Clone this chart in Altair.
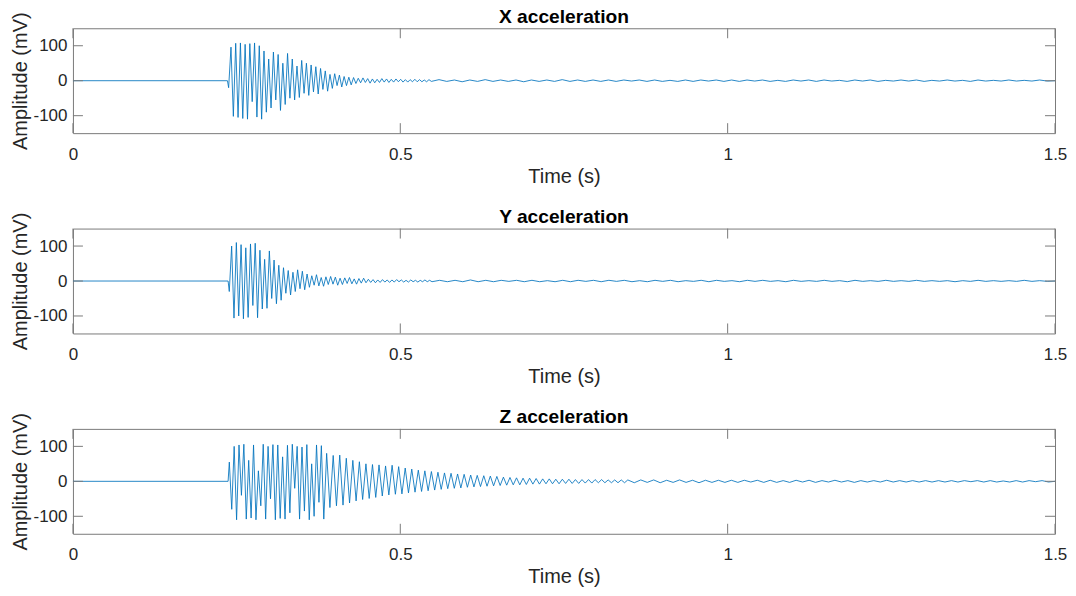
import altair as alt
import pandas as pd

# ---------------- data ----------------
x_ticks = [0, 0.5, 1, 1.5]
y_ticks = [-100, 0, 100]
titles = ["X acceleration", "Y acceleration", "Z acceleration"]

# X acceleration: onset time, half-period step, successive peak values (mV)
x_onset = 0.236
x_step = 0.0036
x_peaks = [
    -20, 96, -102, 107, -105, 108, -108, 104, -110, 106, -60, 108, -104, 100, -110,
    85, -90, 62, -78, 82, -55, 75, -85, 50, -68, 78,
    -50, 62, -55, 42, -48, 58, -36, 50, -42, 45, -32, 40, -38, 35,
    -25, 28, -30, 18, -22, 20, -14, 16, -18, 12, -14, 10, -12, 9,
    -8, 7, -6, 8, -5, 6, -7, 5, -6, 4, -5, 6, -4, 5, -5, 4, -4, 5, -3, 4,
    -4, 3, -4, 3, -3, 4, -3, 3, -3, 2, -3, 3, -2,
]
x_tail = [
    3, -2, 2, -3, 2, -2, 3, -2, 2, -2, 2, -3, 2, -2, 2, -2, 3, -2, 2, -2,
    2, -2, 2, -2, 2, -1, 2, -2, 2, -2, 1, -2, 2, -2, 2, -1, 2, -2, 2, -2,
    2, -1, 2, -2, 1, -2, 2, -1, 2, -2, 2, -1, 1, -2, 2, -1, 2, -2, 1, -1,
    2, -1, 2, -2, 1, -1, 2, -1, 1, -2, 2, -1, 1, -1, 2, -1, 1, -1, 2, -1,
]

# Y acceleration
y_onset = 0.237
y_step = 0.0036
y_peaks = [
    -30, 100, -106, 110, -100, 104, -108, 95, -104, 106, -70, 108, -105,
    88, -80, 62, -78, 86, -50, 60, -65, 45, -55,
    38, -35, 30, -40, 25, -30, 32, -22, 28, -25, 20,
    -18, 15, -12, 18, -14, 10, -15, 12, -10, 13, -9, 11, -12, 8, -10, 9,
    -7, 10, -8, 6, -9, 7, -6, 8, -5,
    5, -4, 4, -5, 3, -4, 4, -3, 3, -4, 3, -3, 4, -2, 3, -3, 2, -3, 3, -2,
    2, -3, 2, -2, 3, -2, 2, -2,
]
y_tail = [
    2, -2, 2, -2, 3, -2, 2, -2, 2, -1, 2, -2, 2, -2, 1, -2, 2, -2, 2, -1,
    2, -2, 2, -1, 2, -2, 1, -2, 2, -1, 2, -2, 1, -1, 2, -2, 2, -1, 1, -2,
    2, -1, 2, -1, 1, -2, 2, -1, 1, -1, 2, -1, 1, -2, 2, -1, 1, -1, 2, -1,
    1, -1, 2, -1, 1, -1, 1, -2, 1, -1, 2, -1, 1, -1, 1, -1, 2, -1, 1, -1,
]

# Z acceleration: dense burst, then slower decaying ringing
z_onset = 0.237
z_burst_step = 0.0037
z_burst = [
    55, -80, 100, -110, 104, -40, 106, -108, 60, -105, 104, -110, 30, -70, 106,
    -108, 100, -50, 105, -110, 104, -106, 70, -108, 103, -90, 106, -20, 100, -108,
    98, -85, 105, -110, 50, -100, 104, -60, 102, -108,
]
z_step = 0.005
z_peaks = [
    80, -75, 74, -70, 75, -68, 66, -62, 60, -56, 56, -52, 50, -49, 48, -46, 47,
    -42, 44, -39, 46, -37, 42,
    -36, 38, -33, 35, -31, 32, -29, 30, -27, 28, -25, 26, -23, 24, -21, 23, -20,
    21, -19, 20, -17, 18, -16, 17, -15, 16, -14, 15, -13, 14,
    -12, 12, -11, 11, -10, 10, -10, 9, -9, 9, -8, 8, -8, 7, -7, 7, -7, 6, -7, 6,
    -6, 6, -6, 5, -6, 5, -5, 5, -5, 5, -4, 5, -4, 4, -4, 4, -4, 4, -4, 4,
]
z_tail = [
    -4, 4, -3, 4, -4, 3, -3, 4, -3, 3, -4, 3, -3, 3, -3, 3, -3, 3, -2, 3,
    -3, 3, -3, 2, -3, 3, -2, 3, -3, 2, -2, 3, -2, 2, -3, 2, -2, 2, -2, 3,
    -2, 2, -2, 2, -2, 2, -2, 2, -2, 2, -2, 2, -1, 2, -2, 2, -2, 1, -2, 2,
    -2, 2, -1, 2, -2,
]

series = [
    (x_onset, [(x_step, x_peaks)], x_tail),
    (y_onset, [(y_step, y_peaks)], y_tail),
    (z_onset, [(z_burst_step, z_burst), (z_step, z_peaks)], z_tail),
]


def build(onset, segments, tail):
    t = [0.0, onset]
    a = [0.0, 0.0]
    cur = onset
    for step, peaks in segments:
        for v in peaks:
            cur += step
            t.append(cur - step / 2)
            a.append(v)
    start = t[-1]
    tstep = (1.5 - start) / (len(tail) + 1)
    for i, v in enumerate(tail):
        t.append(start + (i + 1) * tstep)
        a.append(v)
    t.append(1.5)
    a.append(0.0)
    return pd.DataFrame({"t": t, "a": a})


W, H = 983, 105
FONT = "Liberation Sans"
BOX = "#7a7a7a"

xt_df = pd.DataFrame({"t": x_ticks})
yt_df = pd.DataFrame({"a": y_ticks})


def panel(df, title):
    xenc = alt.X(
        "t:Q",
        scale=alt.Scale(domain=[0, 1.5], nice=False, zero=False),
        axis=alt.Axis(
            values=x_ticks, labelExpr="'' + datum.value", title="Time (s)",
            ticks=False, domain=False, grid=False, labelPadding=13,
            titlePadding=4, labelFlush=False, labelOverlap=False,
        ),
    )
    yenc = alt.Y(
        "a:Q",
        scale=alt.Scale(domain=[-150, 150], nice=False, zero=False),
        axis=alt.Axis(
            values=y_ticks, labelExpr="'' + datum.value",
            title="Amplitude (mV)", ticks=False, domain=False, grid=False,
            labelPadding=6, titlePadding=2, labelFlush=False,
        ),
    )
    line = alt.Chart(df).mark_line(
        color="#0072BD", strokeWidth=0.85, clip=True
    ).encode(x=xenc, y=yenc)
    xb = alt.Chart(xt_df).mark_rule(color=BOX, strokeWidth=1).encode(
        x=xenc, y=alt.value(H), y2=alt.value(H - 10))
    xtp = alt.Chart(xt_df).mark_rule(color=BOX, strokeWidth=1).encode(
        x=xenc, y=alt.value(0), y2=alt.value(10))
    yl = alt.Chart(yt_df).mark_rule(color=BOX, strokeWidth=1).encode(
        y=yenc, x=alt.value(0), x2=alt.value(10))
    yr = alt.Chart(yt_df).mark_rule(color=BOX, strokeWidth=1).encode(
        y=yenc, x=alt.value(W), x2=alt.value(W - 10))
    return alt.layer(line, xb, xtp, yl, yr).properties(
        width=W, height=H,
        title=alt.TitleParams(
            text=title, fontSize=19.2, fontWeight="bold", font=FONT,
            anchor="middle", offset=-15, color="black", frame="group",
        ),
    )


panels = [panel(build(*s), ttl) for s, ttl in zip(series, titles)]

chart = alt.vconcat(*panels, spacing=19.5).properties(
    padding={"left": 2, "top": -2, "right": 0, "bottom": 0},
    background="white",
).configure_view(
    stroke=BOX, strokeWidth=1
).configure_axis(
    labelFont=FONT, titleFont=FONT, labelFontSize=17, titleFontSize=20,
    labelColor="#262626", titleColor="#262626", titleFontWeight="normal",
)

chart.save("out.html", embed_options={"renderer": "svg", "actions": False})
